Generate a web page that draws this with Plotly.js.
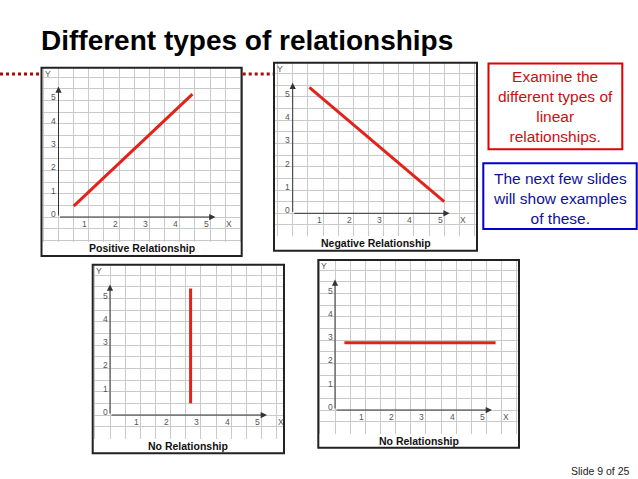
<!DOCTYPE html>
<html><head><meta charset="utf-8">
<script src="https://cdn.plot.ly/plotly-3.0.1.min.js"></script>
<style>html,body{margin:0;padding:0;background:#fff;}#chart{width:638px;height:479px;}</style>
</head><body><div id="chart"></div>
<script>
// ---- data ----
const slideTitle = "Different types of relationships";
const panelTitles = ["Positive Relationship", "Negative Relationship", "No Relationship", "No Relationship"];
const posX = [0.5, 4.42],  posY = [0.47, 5.27];
const negX = [0.55, 5.0],  negY = [5.4, 0.5];
const vertX = [2.66, 2.66], vertY = [0.5, 5.43];
const horizX = [0.31, 5.3], horizY = [2.89, 2.89];
const xTickVals = [1, 2, 3, 4, 5];
const xTickLabels = ["1", "2", "3", "4", "5"];
const yTickVals = [0, 1, 2, 3, 4, 5];
const yTickLabels = ["0", "1", "2", "3", "4", "5"];
const axisNames = ["X", "Y"];
const noteRed = ["Examine the", "different types of", "linear", "relationships."];
const noteBlue = ["The next few slides", "will show examples", "of these."];
const footer = "Slide 9 of 25";

// ---- layout geometry (pixels) ----
const W = 638, H = 479;
const UX = 30.3, UY = 23.3;
const panels = [
  {l: 41.5, r: 241.7, t: 67.7, c: 241,   b: 256,   ox: 58.5, oy: 217},
  {l: 274,  r: 477,   t: 62.7, c: 235.7, b: 250.7, ox: 292.7, oy: 213.3},
  {l: 92.7, r: 284,   t: 264.7, c: 438.3, b: 453.3, ox: 110,  oy: 415},
  {l: 318.3, r: 519,  t: 260,  c: 433.3, b: 447.7, ox: 335,  oy: 410}
];
const seriesX = [posX, negX, vertX, horizX];
const seriesY = [posY, negY, vertY, horizY];

const px = v => v / W;
const py = v => 1 - v / H;
const FONT = "Liberation Sans, Arial, sans-serif";

const traces = [];
const layout = {
  width: W, height: H,
  margin: {l: 0, r: 0, t: 0, b: 0},
  paper_bgcolor: "#fff", plot_bgcolor: "#fff",
  showlegend: false,
  annotations: [], shapes: []
};
function note(o) {
  layout.annotations.push(Object.assign({xref: "paper", yref: "paper", showarrow: false,
    xanchor: "center", yanchor: "middle"}, o));
}
const tickFont = {family: FONT, size: 8.5, color: "#555"};

panels.forEach((p, i) => {
  const n = i === 0 ? "" : String(i + 1);
  const xa = "x" + n, ya = "y" + n;
  layout["xaxis" + n] = {
    domain: [px(p.l), px(p.r)],
    range: [(p.l - p.ox) / UX, (p.r - p.ox) / UX],
    anchor: ya, tick0: 0, dtick: 0.5,
    showgrid: true, gridcolor: "#c9c9c9", gridwidth: 1,
    showticklabels: false, ticks: "", zeroline: false, showline: false, fixedrange: true
  };
  layout["yaxis" + n] = {
    domain: [py(p.c + 0.5), py(p.t)],
    range: [(p.oy - p.c - 0.5) / UY, (p.oy - p.t) / UY],
    anchor: xa, tick0: 0, dtick: 0.5,
    showgrid: true, gridcolor: "#c9c9c9", gridwidth: 1,
    showticklabels: false, ticks: "", zeroline: false, showline: false, fixedrange: true
  };
  traces.push({
    x: seriesX[i], y: seriesY[i], xaxis: xa, yaxis: ya,
    type: "scatter", mode: "lines",
    line: {color: "#e2231a", width: 3}, hoverinfo: "skip"
  });
  // box border
  layout.shapes.push({type: "rect", xref: "paper", yref: "paper",
    x0: px(p.l), x1: px(p.r), y0: py(p.b), y1: py(p.t),
    line: {color: "#222", width: 2}, fillcolor: "rgba(0,0,0,0)"});
  // axes with arrows
  layout.annotations.push({xref: xa, yref: ya, axref: xa, ayref: ya,
    x: 0, y: 5.6, ax: 0, ay: 0, text: "", showarrow: true,
    arrowhead: 2, arrowsize: 1.25, arrowwidth: 1, arrowcolor: "#333", standoff: 0, startstandoff: 0});
  layout.annotations.push({xref: xa, yref: ya, axref: xa, ayref: ya,
    x: 5.18, y: 0, ax: 0, ay: 0, text: "", showarrow: true,
    arrowhead: 2, arrowsize: 1.25, arrowwidth: 1, arrowcolor: "#333", standoff: 0, startstandoff: 0});
  // tick labels
  xTickVals.forEach((v, k) => layout.annotations.push({xref: xa, yref: ya, x: v, y: 0,
    xanchor: "center", yanchor: "middle",
    text: xTickLabels[k], showarrow: false, xshift: -4, yshift: -7, font: tickFont}));
  yTickVals.forEach((v, k) => layout.annotations.push({xref: xa, yref: ya, x: 0, y: v,
    xanchor: "center", yanchor: "middle",
    text: yTickLabels[k], showarrow: false, xshift: -5, yshift: 3, font: tickFont}));
  layout.annotations.push({xref: xa, yref: ya, x: 5.63, y: 0, text: axisNames[0],
    xanchor: "center", yanchor: "middle", showarrow: false, yshift: -7, font: tickFont});
  note({x: px(p.l + 6), y: py(p.t + 6), text: axisNames[1], font: tickFont});
  // caption
  note({x: px((p.l + p.r) / 2), y: py((p.c + p.b) / 2),
    text: "<b>" + panelTitles[i] + "</b>",
    font: {family: FONT, size: 10.5, color: "#111"}});
});

// decorative dotted line
[[0, 40.5], [242.7, 273]].forEach(s => layout.shapes.push({type: "line", xref: "paper", yref: "paper",
  x0: px(s[0]), x1: px(s[1]), y0: py(74), y1: py(74),
  line: {color: "#a80a0a", width: 3, dash: "dot"}}));

// title
note({x: px(39), y: py(41), xanchor: "left",
  text: "<b>" + slideTitle + "</b>",
  font: {family: FONT, size: 28, color: "#000"}});

// note boxes
layout.shapes.push({type: "rect", xref: "paper", yref: "paper",
  x0: px(488.5), x1: px(622.3), y0: py(149.3), y1: py(63.5),
  line: {color: "#e00000", width: 2}, fillcolor: "rgba(0,0,0,0)"});
note({x: px(555.4), y: py(106.5), align: "center",
  text: noteRed.join("<br>"),
  font: {family: FONT, size: 15.5, color: "#c81010"}});
layout.shapes.push({type: "rect", xref: "paper", yref: "paper",
  x0: px(483.3), x1: px(636.7), y0: py(229), y1: py(163.3),
  line: {color: "#0000cc", width: 2}, fillcolor: "rgba(0,0,0,0)"});
note({x: px(560), y: py(198.3), align: "center",
  text: noteBlue.join("<br>"),
  font: {family: FONT, size: 15.5, color: "#10109a"}});

// footer
note({x: px(632), y: py(470.7), xanchor: "right",
  text: footer, font: {family: FONT, size: 10.5, color: "#222"}});

Plotly.newPlot("chart", traces, layout, {staticPlot: true, displayModeBar: false});
</script></body></html>
